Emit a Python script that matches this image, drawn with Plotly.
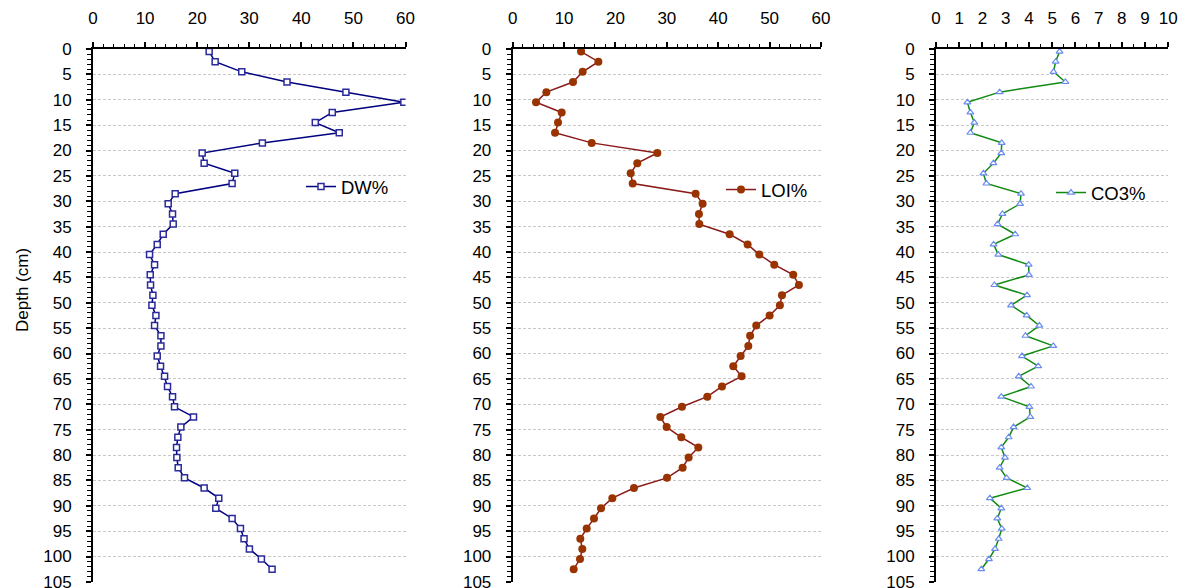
import plotly.graph_objects as go

depth = [0.5 + 2 * i for i in range(52)]

dw = [22.3, 23.45, 28.56, 37.25, 48.56, 59.68, 45.94, 42.68, 47.28, 32.52,
      20.96, 21.34, 27.22, 26.71, 15.78, 14.44, 15.27, 15.4, 13.48, 12.33,
      10.86, 11.82, 10.99, 11.05, 11.5, 11.31, 12.08, 11.82, 13.04, 13.04,
      12.33, 12.97, 13.74, 14.31, 15.27, 15.65, 19.3, 16.87, 16.29, 16.04,
      16.1, 16.36, 17.57, 21.34, 24.15, 23.58, 26.71, 28.31, 29.0, 30.03,
      32.33, 34.38]

loi = [13.3, 16.67, 13.62, 11.74, 6.55, 4.54, 9.53, 8.82, 8.24, 15.37,
       28.15, 24.25, 22.96, 23.35, 35.6, 36.96, 36.25, 36.32, 42.22, 45.72,
       47.99, 50.91, 54.6, 55.7, 52.4, 52.0, 50.0, 47.4, 46.2, 45.85,
       44.36, 42.93, 44.55, 40.73, 37.87, 32.94, 28.73, 29.96, 32.81, 36.12,
       34.24, 33.07, 30.03, 23.6, 19.39, 17.19, 15.82, 14.4, 13.16, 13.55,
       13.1, 11.87]

co3 = [5.32, 5.15, 5.06, 5.57, 2.74, 1.35, 1.48, 1.65, 1.48, 2.83,
       2.81, 2.47, 2.04, 2.17, 3.66, 3.62, 2.86, 2.65, 3.41, 2.48,
       2.68, 3.99, 4.0, 2.51, 3.92, 3.23, 3.9, 4.45, 3.85, 5.05,
       3.7, 4.4, 3.56, 4.09, 2.81, 4.02, 4.06, 3.34, 3.13, 2.81,
       2.97, 2.74, 3.04, 3.93, 2.32, 2.81, 2.64, 2.83, 2.7, 2.54,
       2.28, 1.95]

W, H = 1186, 588
FONT = "Liberation Sans, Arial, sans-serif"
FS = 17

fig = go.Figure()

fig.add_trace(go.Scatter(
    x=dw, y=depth, name="DW%", mode="lines+markers", xaxis="x", yaxis="y",
    line=dict(color="#000080", width=1.5),
    marker=dict(symbol="square", size=6, color="white",
                line=dict(color="#2a2a9a", width=1.5)),
    legend="legend"))
fig.add_trace(go.Scatter(
    x=loi, y=depth, name="LOI%", mode="lines+markers", xaxis="x2", yaxis="y2",
    line=dict(color="#8b1a1a", width=1.5),
    marker=dict(symbol="circle", size=8, color="#993300"),
    legend="legend2"))
fig.add_trace(go.Scatter(
    x=co3, y=depth, name="CO3%", mode="lines+markers", xaxis="x3", yaxis="y3",
    line=dict(color="#118a11", width=1.5),
    marker=dict(symbol="triangle-up", size=6, color="white",
                line=dict(color="#6a8cf0", width=1.2)),
    legend="legend3"))

doms = [(93, 405.5), (512.7, 821), (936, 1168.3)]
xr = [(0, 60, 10, 2), (0, 60, 10, 2), (0, 10, 1, 0.5)]

layout = dict(
    width=W, height=H, margin=dict(l=0, r=0, t=49, b=6, autoexpand=False),
    paper_bgcolor="white", plot_bgcolor="white",
    font=dict(family=FONT, size=FS, color="black"),
)
for i, ((x0, x1), (lo, hi, dt, mdt)) in enumerate(zip(doms, xr)):
    s = "" if i == 0 else str(i + 1)
    layout["xaxis" + s] = dict(
        domain=[x0 / W, x1 / W], range=[lo, hi], side="top", anchor="y" + s,
        dtick=dt, tick0=0, showline=True, linecolor="black", linewidth=2,
        ticks="outside", ticklen=5, tickwidth=1.5, tickcolor="black",
        showgrid=False, zeroline=False, ticklabelstandoff=11,
        ticklabeloverflow="allow", automargin=False,
        minor=dict(dtick=mdt, ticks="outside", ticklen=3, tickwidth=1.2,
                   tickcolor="black", showgrid=False),
        tickfont=dict(size=FS, family=FONT))
    layout["yaxis" + s] = dict(
        domain=[0, 1], range=[105.02, 0], anchor="x" + s, dtick=5, tick0=0,
        showline=True, linecolor="black", linewidth=2,
        ticks="outside", ticklen=5, tickwidth=1.5, tickcolor="black",
        showgrid=True, gridcolor="#c8c8c8", griddash="3px,2px", gridwidth=1,
        zeroline=False, ticklabelstandoff=11, ticklabeloverflow="allow",
        automargin=False,
        minor=dict(dtick=1, ticks="outside", ticklen=4, tickwidth=1.2,
                   tickcolor="black", showgrid=False),
        tickfont=dict(size=FS, family=FONT))

def leg(xpx, ypx):
    return dict(x=xpx / W, y=(582 - ypx) / 533, xanchor="left", yanchor="middle",
                bgcolor="rgba(0,0,0,0)", borderwidth=0,
                font=dict(size=18.5, family=FONT), itemwidth=30,
                tracegroupgap=0)

layout["legend"] = leg(301, 187)
layout["legend2"] = leg(721, 190)
layout["legend3"] = leg(1051, 193)
layout["showlegend"] = True

layout["annotations"] = [dict(
    text="Depth (cm)", x=22 / W, y=(582 - 290) / 533, xref="paper", yref="paper",
    textangle=-90, showarrow=False, font=dict(size=FS, family=FONT),
    xanchor="center", yanchor="middle")]

fig.update_layout(**layout)
fig.write_html("out.html")
